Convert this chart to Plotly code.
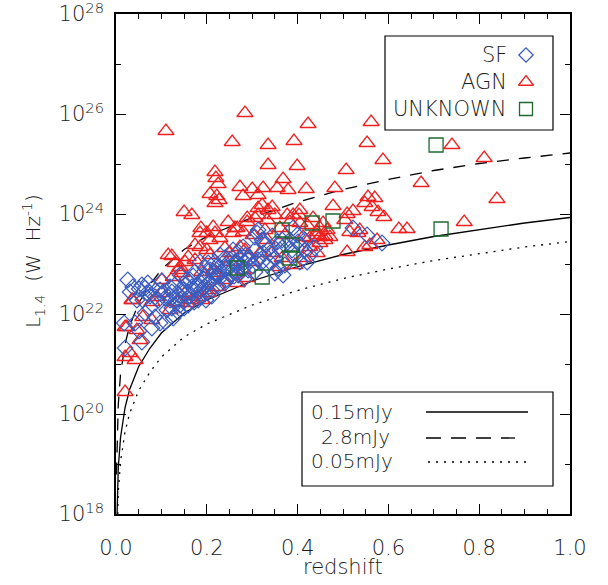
import plotly.graph_objects as go

# ---------------- data (redshift, log10 L_1.4) ----------------
agn_z = [0.110, 0.284, 0.423, 0.256, 0.335, 0.392, 0.562, 0.553, 0.740, 0.588,
         0.507, 0.811, 0.672, 0.839, 0.767, 0.335, 0.399, 0.218, 0.220, 0.368,
         0.225, 0.222, 0.227, 0.273, 0.300, 0.324, 0.313, 0.355, 0.379, 0.419,
         0.482, 0.150, 0.167, 0.187, 0.280, 0.322, 0.478, 0.555, 0.570, 0.548,
         0.522, 0.564, 0.577, 0.590, 0.509, 0.623, 0.641, 0.533, 0.575, 0.559,
         0.509, 0.443, 0.460, 0.427, 0.449, 0.548, 0.515, 0.537,
         0.218, 0.289, 0.313, 0.335, 0.390, 0.405, 0.434, 0.456, 0.504, 0.214,
         0.267, 0.280, 0.302, 0.333, 0.361, 0.412, 0.443, 0.460, 0.443, 0.427,
         0.273, 0.251, 0.200, 0.229, 0.200, 0.317, 0.344, 0.366, 0.412, 0.394,
         0.361, 0.302, 0.280, 0.289, 0.236, 0.214, 0.189, 0.267, 0.225, 0.203,
         0.189,
         0.020, 0.020, 0.042, 0.024, 0.037, 0.101, 0.115, 0.130, 0.174, 0.185,
         0.152, 0.090, 0.059, 0.079, 0.119, 0.156, 0.181, 0.207, 0.222, 0.145,
         0.053, 0.218, 0.258, 0.344, 0.123,
         0.134, 0.167, 0.251, 0.284, 0.240, 0.207, 0.174, 0.152, 0.137, 0.328,
         0.372, 0.383, 0.350, 0.449, 0.405, 0.247, 0.306,
         0.207, 0.289, 0.262, 0.313, 0.333, 0.377, 0.403, 0.421, 0.465, 0.449,
         0.471, 0.207, 0.185, 0.159, 0.141, 0.126, 0.101, 0.079, 0.035, 0.020,
         0.046, 0.031]
agn_logL = [25.66, 26.02, 25.80, 25.44, 25.38, 25.46, 25.84, 25.42, 25.38, 25.08,
            24.88, 25.12, 24.62, 24.30, 23.84, 24.98, 24.96, 24.84, 24.72, 24.70,
            24.60, 24.36, 24.28, 24.54, 24.50, 24.52, 24.38, 24.52, 24.48, 24.50,
            24.52, 24.04, 23.98, 23.72, 24.36, 24.18, 24.16, 24.34, 24.32, 24.22,
            24.06, 24.14, 24.04, 23.94, 24.00, 23.70, 23.70, 23.62, 23.48, 23.38,
            23.24, 23.64, 23.56, 23.52, 23.42, 23.34, 23.64, 23.68,
            24.22, 23.84, 24.12, 24.08, 23.98, 23.82, 23.92, 23.82, 23.88, 23.74,
            23.72, 23.64, 23.58, 23.48, 23.72, 23.54, 23.58, 23.48, 23.22, 23.34,
            23.34, 23.22, 23.28, 23.52, 23.62, 23.22, 23.22, 23.12, 23.12, 22.98,
            22.94, 23.04, 22.88, 22.72, 22.68, 22.88, 22.84, 22.62, 22.54, 22.42,
            22.28,
            20.44, 21.14, 21.08, 21.74, 22.28, 22.68, 23.18, 23.02, 23.08, 23.62,
            22.42, 22.34, 21.94, 21.88, 22.08, 22.22, 22.34, 22.48, 22.82, 22.82,
            21.48, 23.62, 23.62, 24.14, 23.16,
            22.24, 22.28, 23.04, 23.28, 23.32, 23.18, 23.38, 23.04, 22.88, 23.68,
            23.58, 23.84, 23.98, 23.72, 24.08, 23.84, 23.92,
            24.40, 23.92, 23.72, 23.98, 23.88, 23.98, 23.98, 23.78, 23.68, 23.54,
            23.54, 23.48, 23.34, 23.14, 22.94, 22.74, 22.42, 22.24, 22.28, 21.74,
            21.68, 21.22]

sf_z = [0.020, 0.057, 0.042, 0.051, 0.037, 0.057, 0.068, 0.081, 0.059, 0.075,
        0.086, 0.097, 0.108, 0.112, 0.123, 0.093, 0.104, 0.119, 0.132, 0.141,
        0.152, 0.163, 0.174, 0.185, 0.196, 0.207, 0.218, 0.229, 0.240, 0.251,
        0.264, 0.273, 0.163, 0.181, 0.196, 0.211, 0.225, 0.130, 0.152, 0.119,
        0.101, 0.141, 0.174, 0.196, 0.218, 0.240, 0.185,
        0.229, 0.258, 0.280, 0.291, 0.313, 0.324, 0.333, 0.350, 0.313, 0.306,
        0.355, 0.388, 0.399, 0.390, 0.401, 0.416, 0.421, 0.339, 0.372, 0.203,
        0.218, 0.240, 0.267, 0.368, 0.522, 0.553, 0.586, 0.311, 0.018, 0.026,
        0.119, 0.137, 0.148, 0.159, 0.167, 0.178, 0.192, 0.203, 0.214, 0.225,
        0.233, 0.247, 0.256, 0.262, 0.269, 0.280, 0.284, 0.295, 0.291, 0.302,
        0.306, 0.328, 0.339, 0.350, 0.361, 0.372, 0.383, 0.405, 0.416, 0.427,
        0.438, 0.405, 0.159, 0.172, 0.185, 0.198, 0.211, 0.137, 0.150, 0.126,
        0.086, 0.070, 0.051, 0.031, 0.046, 0.064, 0.079,
        0.108, 0.123, 0.141, 0.156, 0.170, 0.183, 0.194, 0.207, 0.222, 0.238,
        0.256, 0.269, 0.286, 0.242, 0.260, 0.282, 0.306, 0.322, 0.339, 0.357,
        0.366, 0.344, 0.322, 0.394, 0.075, 0.064, 0.097]
sf_logL = [21.32, 21.44, 21.82, 21.66, 22.54, 22.58, 22.42, 22.52, 22.28, 22.12,
           21.94, 21.82, 21.84, 22.08, 22.12, 22.28, 22.44, 22.36, 22.28, 22.48,
           22.58, 22.68, 22.48, 22.64, 22.76, 22.64, 22.84, 22.72, 22.92, 22.78,
           22.98, 23.12, 22.36, 22.28, 22.40, 22.48, 22.56, 22.58, 22.28, 22.54,
           22.66, 22.78, 22.84, 22.92, 23.04, 23.12, 23.04,
           23.18, 23.28, 23.34, 23.08, 23.08, 23.22, 22.98, 22.82, 23.68, 23.54,
           23.44, 23.28, 23.58, 23.72, 23.44, 23.28, 23.04, 23.22, 22.98, 23.02,
           22.74, 22.62, 22.84, 22.78, 23.72, 23.58, 23.42, 23.62, 21.82, 22.68,
           22.28, 22.38, 22.48, 22.44, 22.54, 22.58, 22.52, 22.62, 22.70, 22.76,
           22.84, 22.92, 22.88, 23.04, 22.78, 22.92, 23.04, 23.12, 22.88, 22.96,
           23.28, 23.38, 23.32, 23.12, 23.28, 23.38, 23.48, 23.38, 23.48, 23.18,
           23.32, 23.04, 22.18, 22.24, 22.34, 22.28, 22.36, 22.04, 22.12, 21.92,
           22.34, 22.62, 22.50, 22.44, 22.28, 22.02, 21.72,
           22.32, 22.44, 22.18, 22.68, 22.76, 22.44, 22.70, 22.88, 22.96, 23.04,
           23.12, 23.24, 23.18, 22.68, 22.76, 22.70, 22.84, 23.04, 23.04, 22.92,
           23.48, 23.56, 23.48, 23.18, 22.36, 22.52, 22.48]

unk_z = [0.705, 0.716, 0.432, 0.478, 0.366, 0.267, 0.322, 0.388, 0.383]
unk_logL = [25.38, 23.70, 23.82, 23.86, 23.68, 22.92, 22.74, 23.38, 23.12]

# flux-limit curves
curve_z = [0.001, 0.002, 0.005, 0.01, 0.02, 0.03, 0.05, 0.075, 0.1, 0.15,
           0.2, 0.3, 0.4, 0.5, 0.6, 0.7, 0.8, 0.9, 1.0]
solid_logL = [17.52, 18.12, 18.92, 19.53, 20.13, 20.49, 20.95, 21.32, 21.62, 22.02,
              22.28, 22.66, 22.95, 23.19, 23.38, 23.55, 23.69, 23.82, 23.93]
dashed_logL = [18.79, 19.39, 20.19, 20.80, 21.40, 21.76, 22.22, 22.59, 22.89, 23.29,
               23.55, 23.93, 24.24, 24.49, 24.69, 24.87, 25.01, 25.12, 25.22]
dotted_logL = [17.04, 17.64, 18.44, 19.05, 19.65, 20.01, 20.47, 20.84, 21.14, 21.54,
               21.80, 22.18, 22.47, 22.71, 22.90, 23.07, 23.21, 23.34, 23.45]

x_ticks = [0.0, 0.2, 0.4, 0.6, 0.8, 1.0]
y_exps = [18, 20, 22, 24, 26, 28]
y_minor_exps = [19, 21, 23, 25, 27]

RED = "#f02020"
BLUE = "#3a5cc0"
GREEN = "#1e6a30"
FONT = "DejaVu Sans"
TXT = "#1a1a1a"

def lin(v):
    return [10.0 ** e for e in v]

def tf(size):
    return dict(family=FONT, size=size, color=TXT, weight=200)

fig = go.Figure()

fig.add_trace(go.Scatter(x=curve_z, y=lin(solid_logL), mode="lines",
                         line=dict(color="black", width=1.3)))
fig.add_trace(go.Scatter(x=curve_z, y=lin(dashed_logL), mode="lines",
                         line=dict(color="black", width=1.3, dash="12px,10px")))
fig.add_trace(go.Scatter(x=curve_z, y=lin(dotted_logL), mode="lines",
                         line=dict(color="black", width=1.3, dash="2px,6px")))

fig.add_trace(go.Scatter(x=agn_z, y=lin(agn_logL), mode="markers",
                         marker=dict(symbol="triangle-up-open", size=14, color=RED,
                                     line=dict(width=1.3, color=RED))))
fig.add_trace(go.Scatter(x=sf_z, y=lin(sf_logL), mode="markers",
                         marker=dict(symbol="diamond-open", size=12, color=BLUE,
                                     line=dict(width=1.2, color=BLUE))))
fig.add_trace(go.Scatter(x=unk_z, y=lin(unk_logL), mode="markers",
                         marker=dict(symbol="square-open", size=14, color=GREEN,
                                     line=dict(width=1.3, color=GREEN))))

# ---- legend glyphs on an overlay (paper-like) axis ----
W0, H0, L0, B0 = 454.0, 500.0, 116.0, 514.0
def px(xp):
    return (xp - L0) / W0
def py(yp):
    return (B0 - yp) / H0

leg_syms = [("diamond-open", BLUE, 11, 55), ("triangle-up-open", RED, 13, 82),
            ("square-open", GREEN, 13, 109)]
for sym, col, sz, ypix in leg_syms:
    fig.add_trace(go.Scatter(x=[px(526)], y=[py(ypix)], mode="markers",
                             xaxis="x2", yaxis="y2",
                             marker=dict(symbol=sym, size=sz, color=col,
                                         line=dict(width=1.3, color=col))))

# invisible helper trace so the minor-tick overlay axis is drawn
fig.add_trace(go.Scatter(x=[0.5], y=[1e23], mode="markers", xaxis="x", yaxis="y3",
                         marker=dict(opacity=0), hoverinfo="skip"))

shapes = []
shapes.append(dict(type="rect", xref="paper", yref="paper",
                   x0=px(385), x1=px(553), y0=py(130), y1=py(36),
                   line=dict(color="black", width=1.2)))
shapes.append(dict(type="rect", xref="paper", yref="paper",
                   x0=px(302), x1=px(553), y0=py(486), y1=py(392),
                   line=dict(color="black", width=1.2)))
shapes.append(dict(type="line", xref="paper", yref="paper",
                   x0=px(426), x1=px(528), y0=py(412), y1=py(412),
                   line=dict(color="black", width=1.3)))
shapes.append(dict(type="line", xref="paper", yref="paper",
                   x0=px(426), x1=px(515), y0=py(438), y1=py(438),
                   line=dict(color="black", width=1.3, dash="15px,10px")))
shapes.append(dict(type="line", xref="paper", yref="paper",
                   x0=px(428), x1=px(528), y0=py(462), y1=py(462),
                   line=dict(color="black", width=1.3, dash="2px,6px")))

ann = []
for txt, ypix in [("SF", 55), ("AGN", 82), ("UNKNOWN", 109)]:
    ann.append(dict(text=txt, xref="paper", yref="paper", x=px(509), y=py(ypix),
                    xanchor="right", yanchor="middle", showarrow=False, font=tf(21)))
for txt, xpix, ypix in [("0.15mJy", 309, 412), ("2.8mJy", 319, 437), ("0.05mJy", 309, 461)]:
    ann.append(dict(text=txt, xref="paper", yref="paper", x=px(xpix), y=py(ypix),
                    xanchor="left", yanchor="middle", showarrow=False, font=tf(20)))
ann.append(dict(text="L<sub>1.4</sub>  (W  Hz<sup>-1</sup>)", xref="paper", yref="paper",
                x=px(33), y=py(261), textangle=-90, xanchor="center", yanchor="middle",
                showarrow=False, font=tf(20)))
ann.append(dict(text="redshift", xref="paper", yref="paper",
                x=px(343), y=py(567), xanchor="center", yanchor="middle",
                showarrow=False, font=tf(21)))

YR = [18 - 1e-6, 28 + 1e-6]
fig.update_layout(
    width=608, height=585,
    margin=dict(l=116, r=38, t=14, b=71, autoexpand=False),
    plot_bgcolor="white", paper_bgcolor="white",
    showlegend=False,
    shapes=shapes, annotations=ann,
    font=dict(family=FONT, color=TXT),
    xaxis=dict(range=[0, 1], showgrid=False, zeroline=False, automargin=False,
               showline=True, linecolor="black", linewidth=1.5, mirror="ticks",
               ticks="inside", ticklen=10, tickwidth=1.2, tickcolor="black",
               tickmode="array", tickvals=x_ticks,
               ticktext=["%.1f" % v for v in x_ticks],
               tickfont=tf(21), ticklabelstandoff=14, ticklabeloverflow="allow",
               minor=dict(ticks="inside", dtick=0.05, ticklen=5, tickwidth=1.2,
                          tickcolor="black", showgrid=False)),
    yaxis=dict(type="log", range=YR, showgrid=False, zeroline=False, automargin=False,
               showline=True, linecolor="black", linewidth=1.5, mirror="ticks",
               ticks="inside", ticklen=10, tickwidth=1.2, tickcolor="black",
               tickmode="array", tickvals=[10.0 ** e for e in y_exps],
               ticktext=["10<sup>%d</sup>" % e for e in y_exps],
               tickfont=tf(21), ticklabelstandoff=6, ticklabeloverflow="allow"),
    yaxis3=dict(type="log", range=YR, overlaying="y", anchor="x", automargin=False,
                showgrid=False, zeroline=False, showline=False, mirror="ticks",
                ticks="inside", ticklen=5, tickwidth=1.2, tickcolor="black",
                tickmode="array", tickvals=[10.0 ** e for e in y_minor_exps],
                showticklabels=False),
    xaxis2=dict(range=[0, 1], overlaying="x", anchor="y2", visible=False, automargin=False),
    yaxis2=dict(range=[0, 1], overlaying="y", anchor="x2", visible=False, automargin=False),
)

fig.write_html("out.html")
